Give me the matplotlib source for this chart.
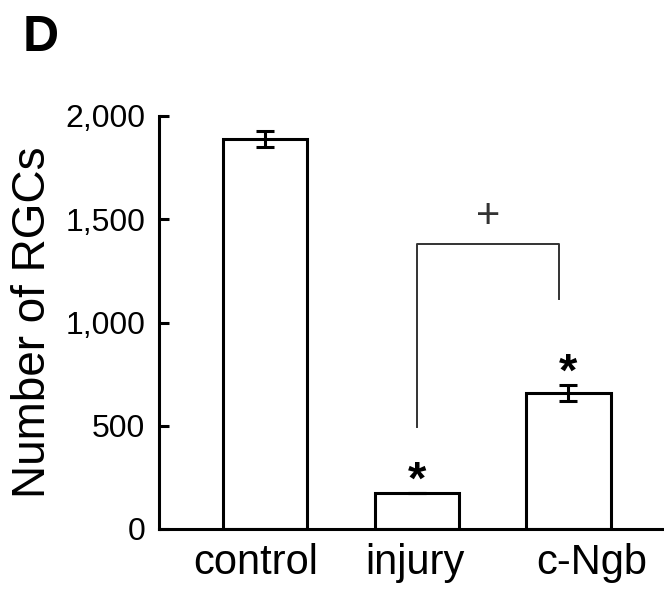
import matplotlib
matplotlib.use('Agg')
import matplotlib.pyplot as plt
import matplotlib.transforms as mtransforms
from matplotlib import font_manager

groups = ['control', 'injury', 'c-Ngb']
counts = [1889, 174, 659]
errors = [40, 0, 39]
stars = ['', '*', '*']
yticks = [0, 500, 1000, 1500, 2000]
ytick_labels = ['0', '500', '1,000', '1,500', '2,000']
sig_pair = (1, 1.94)
sig_legs = (494, 1114)
sig_top = 1380
sig_mark = '+'

names = set(f.name for f in font_manager.fontManager.ttflist)
narrow = 'Liberation Sans Narrow' if 'Liberation Sans Narrow' in names else 'Liberation Sans'
plt.rcParams['font.family'] = ['Liberation Sans', 'DejaVu Sans']

fig = plt.figure(figsize=(6.64, 5.97), dpi=100)
ax = fig.add_axes([159/664, 68/597, 505/664, 413/597])

x = list(range(len(groups)))
ax.bar(x, counts, width=0.555, color='white', edgecolor='black', linewidth=2.2)
ax.errorbar(x, counts, yerr=errors, fmt='none', ecolor='black', elinewidth=2.2,
            capsize=6.5, capthick=2.2)

for xi, c, e, s in zip(x, counts, errors, stars):
    if s:
        ax.annotate(s, (xi, c + e), xytext=(0, -8), textcoords='offset points',
                    ha='center', va='bottom', fontsize=34, fontweight='bold',
                    annotation_clip=False)

# bracket
a, b = sig_pair
ax.plot([a, a, b, b], [sig_legs[0], sig_top, sig_top, sig_legs[1]],
        color='#333333', linewidth=1.4, clip_on=False)
ax.text((a + b) / 2, sig_top + 35, sig_mark, ha='center', va='bottom',
        fontsize=30, color='#333333')

ax.set_xlim(-0.7, 2.63)
ax.set_ylim(0, 2000)
ax.set_yticks(yticks)
ax.set_yticklabels(ytick_labels, fontsize=23, family=narrow)
ax.set_xticks(x)
ax.set_xticklabels(groups, fontsize=30)
ax.tick_params(axis='y', direction='in', length=7, width=2.2, pad=10)
ax.tick_params(axis='x', length=0, pad=10)

shifts = [-9, -2, 23]
for lab, dx in zip(ax.get_xticklabels(), shifts):
    lab.set_transform(lab.get_transform() + mtransforms.ScaledTranslation(dx / 100, 0, fig.dpi_scale_trans))

for side in ['top', 'right']:
    ax.spines[side].set_visible(False)
ax.spines['left'].set_linewidth(2.2)
ax.spines['bottom'].set_linewidth(2.2)

ax.set_ylabel('Number of RGCs', fontsize=33, va='center')
ax.yaxis.set_label_coords(-0.25, 0.5)

fig.text(23/664, 1 - 15/597, 'D', fontsize=36, fontweight='bold', ha='left', va='top')

fig.savefig('out.png', dpi=100)
